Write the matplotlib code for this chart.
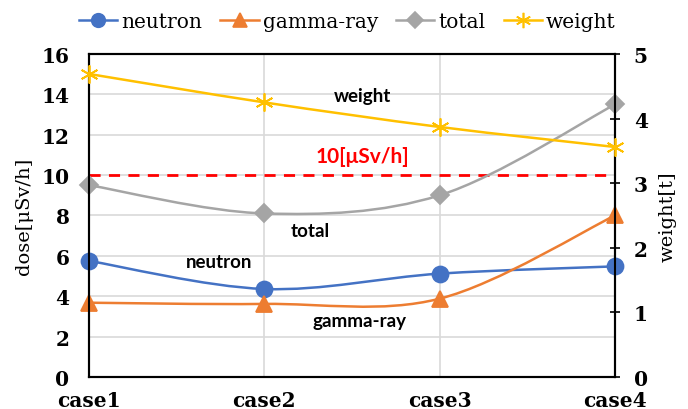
import numpy as np
import matplotlib
matplotlib.use("Agg")
import matplotlib.pyplot as plt
from matplotlib.path import Path
from matplotlib.patches import PathPatch
from matplotlib.lines import Line2D

# ---- data ----
cases = ["case1", "case2", "case3", "case4"]
neutron = [5.75, 4.36, 5.12, 5.48]
gamma_ray = [3.68, 3.62, 3.88, 8.0]
total = [9.5, 8.1, 9.0, 13.5]
weight = [4.69, 4.25, 3.87, 3.56]
limit = 10

serif = "DejaVu Serif"
sans = "Lato"


def smooth_path(xs, ys):
    # Excel-like smoothed line: cubic bezier through points (Catmull-Rom)
    xs = np.asarray(xs, float)
    ys = np.asarray(ys, float)
    px = np.concatenate([[xs[0]], xs, [xs[-1]]])
    py = np.concatenate([[ys[0]], ys, [ys[-1]]])
    verts = [(xs[0], ys[0])]
    codes = [Path.MOVETO]
    for i in range(1, len(xs)):
        c1 = (px[i] + (px[i + 1] - px[i - 1]) / 6, py[i] + (py[i + 1] - py[i - 1]) / 6)
        c2 = (px[i + 1] - (px[i + 2] - px[i]) / 6, py[i + 1] - (py[i + 2] - py[i]) / 6)
        verts += [c1, c2, (px[i + 1], py[i + 1])]
        codes += [Path.CURVE4] * 3
    return Path(verts, codes)


fig = plt.figure(figsize=(6.88, 4.10), dpi=100)
ax = fig.add_axes([0.1294, 0.078, 0.7645, 0.788])
ax2 = ax.twinx()

x = np.arange(len(cases))

series = [
    (ax, neutron, "#4472C4", "o", 11.5, "neutron"),
    (ax, gamma_ray, "#ED7D31", "^", 11.5, "gamma-ray"),
    (ax, total, "#A5A5A5", "D", 9, "total"),
    (ax2, weight, "#FFC000", (6, 2, 0), 13, "weight"),
]

handles = []
for a, ys, col, mk, ms, lab in series:
    a.add_patch(PathPatch(smooth_path(x, ys), fill=False, edgecolor=col, lw=1.8,
                          zorder=3, clip_on=False))
    a.plot(x, ys, ls="none", marker=mk, ms=ms, color=col, mec=col, mew=1.3,
           zorder=4, clip_on=False)
    handles.append(Line2D([], [], color=col, lw=1.8, marker=mk,
                          ms=ms * 0.85, mec=col, mew=1.2, label=lab))

ax.axhline(limit, color="#FF0000", ls=(0, (4, 3)), lw=2, zorder=2)

ax.set_xlim(0, 3)
ax.set_ylim(0, 16)
ax2.set_ylim(0, 5)
ax.set_xticks(x)
ax.set_xticklabels(cases)
ax.set_yticks(np.arange(0, 17, 2))
ax2.set_yticks(np.arange(0, 6, 1))

ax.grid(True, color="#D9D9D9", lw=1.2)
ax.set_axisbelow(True)

for a in (ax, ax2):
    for s in a.spines.values():
        s.set_color("black")
        s.set_linewidth(1.5)

ax.tick_params(axis="y", length=0, labelsize=14.5, pad=14)
ax.tick_params(axis="x", length=0, labelsize=14.5, pad=9)
ax2.tick_params(axis="y", direction="inout", length=7, width=1.2, labelsize=14.5, pad=10)
for lbl in ax.get_xticklabels() + ax.get_yticklabels() + ax2.get_yticklabels():
    lbl.set_fontfamily(serif)
    lbl.set_fontweight("bold")

ax.set_ylabel("dose[μSv/h]", fontsize=14, family=serif, labelpad=6)
ax2.set_ylabel("weight[t]", fontsize=14, family=serif, labelpad=8)

# annotations
ax.text(1.56, 13.95, "weight", ha="center", va="center", fontsize=13.5, fontweight="bold", family=sans)
ax.text(1.56, 10.95, "10[μSv/h]", ha="center", va="center", fontsize=15, fontweight="bold",
        color="#FF0000", family=sans)
ax.text(1.26, 7.25, "total", ha="center", va="center", fontsize=13.5, fontweight="bold", family=sans)
ax.text(0.74, 5.7, "neutron", ha="center", va="center", fontsize=13.5, fontweight="bold", family=sans)
ax.text(1.54, 2.78, "gamma-ray", ha="center", va="center", fontsize=13.5, fontweight="bold", family=sans)

fig.legend(handles=handles, loc="center", bbox_to_anchor=(0.505, 0.945), ncol=4, frameon=False,
           prop={"family": serif, "size": 14.5}, handlelength=1.9, handletextpad=0.2,
           columnspacing=0.9)

fig.savefig("out.png", dpi=100)
